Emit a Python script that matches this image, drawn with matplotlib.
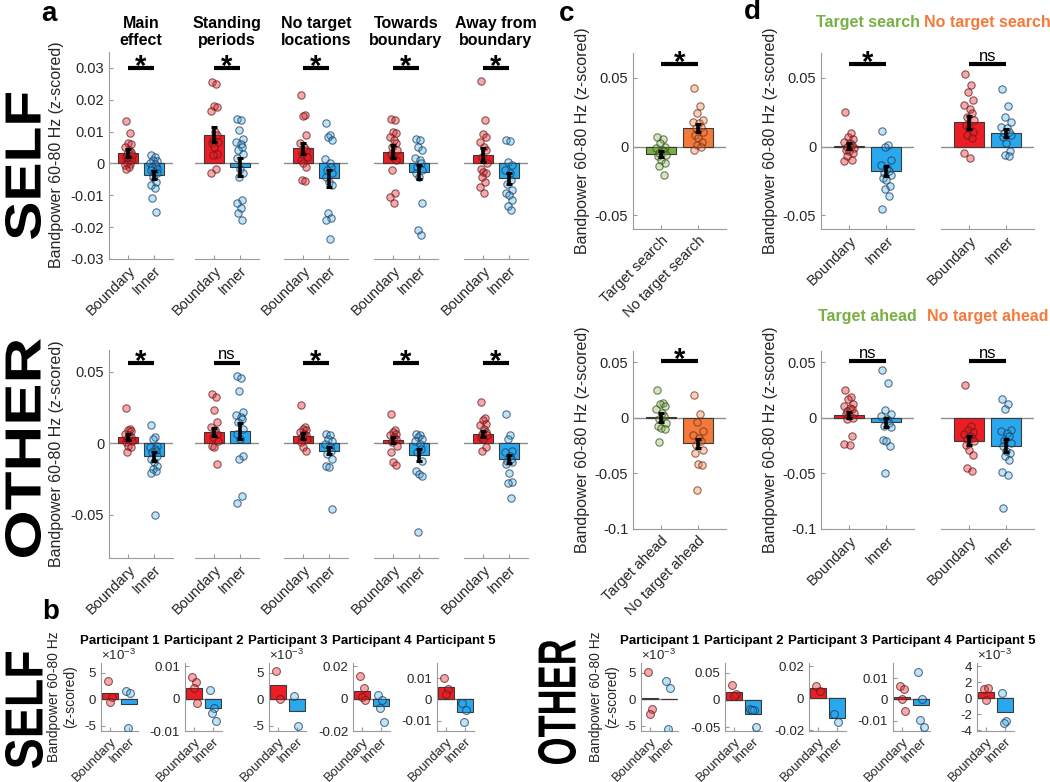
import matplotlib
matplotlib.use("Agg")
import matplotlib.pyplot as plt
import matplotlib.transforms as mtransforms
from matplotlib.textpath import TextPath
from matplotlib.patches import PathPatch
from matplotlib.font_manager import FontProperties
import numpy as np

plt.rcParams["font.family"] = ["Liberation Sans", "DejaVu Sans"]
plt.rcParams["axes.unicode_minus"] = False
plt.rcParams["mathtext.fontset"] = "custom"
plt.rcParams["mathtext.rm"] = "Liberation Sans"

W, H = 1050, 782

# ── panel a: SELF / OTHER, five conditions ───────────────────────────────────
conditions = ["Main\neffect", "Standing\nperiods", "No target\nlocations",
              "Towards\nboundary", "Away from\nboundary"]
groups = ["Boundary", "Inner"]

self_bnd = [
    [0.0133, 0.0096, 0.0065, 0.006, 0.0052, 0.0042, 0.0036, 0.003, 0.0026, 0.002, 0.0016, 0.001, 0.0002, -0.0002, -0.0005, -0.001, -0.0016],
    [0.0255, 0.0248, 0.0182, 0.0177, 0.0164, 0.0099, 0.0089, 0.0073, 0.0068, 0.0063, 0.0052, 0.0031, 0.0026, -0.0016, -0.0031],
    [0.0216, 0.0151, 0.0148, 0.0089, 0.0063, 0.0052, 0.0042, 0.0031, 0.0021, 0.001, 0.0, -0.001, -0.0052, -0.0054],
    [0.0141, 0.0135, 0.0099, 0.0096, 0.0083, 0.0073, 0.0063, 0.0052, 0.0042, 0.0031, 0.0021, 0.001, -0.0021, -0.0092, -0.0104, -0.0125],
    [0.0258, 0.0135, 0.0094, 0.0083, 0.0068, 0.0052, 0.0042, 0.0021, 0.0, -0.0016, -0.0026, -0.0031, -0.0042, -0.0057, -0.0073, -0.0092],
]
self_inn = [
    [0.0026, 0.0021, 0.0012, 0.0008, 0.0002, -0.0002, -0.0007, -0.001, -0.0016, -0.0021, -0.0026, -0.0031, -0.0042, -0.0057, -0.0068, -0.0078, -0.0109, -0.0151],
    [0.0141, 0.0137, 0.0104, 0.0078, 0.0068, 0.006, 0.0052, 0.0042, 0.0031, 0.0016, -0.0016, -0.0031, -0.0042, -0.0115, -0.0125, -0.0141, -0.0156, -0.0177],
    [0.0127, 0.0089, 0.0083, 0.0075, 0.0013, 0.0, -0.001, -0.0021, -0.0031, -0.0042, -0.0057, -0.0068, -0.0156, -0.0172, -0.0177, -0.0238],
    [0.0078, 0.0073, 0.0052, 0.0042, 0.0016, 0.001, 0.0, -0.001, -0.0021, -0.0031, -0.0042, -0.0125, -0.0208, -0.0224],
    [0.0075, 0.0071, 0.0005, -0.0005, -0.0021, -0.0031, -0.0052, -0.0063, -0.0083, -0.0094, -0.0099, -0.0115, -0.0135, -0.0146],
]
self_mean_bnd = [0.0033, 0.009, 0.0047, 0.0037, 0.0027]
self_mean_inn = [-0.0037, -0.001, -0.0047, -0.0028, -0.0047]
self_sem_bnd = [0.0012, 0.0023, 0.0018, 0.0021, 0.0023]
self_sem_inn = [0.0012, 0.0028, 0.0027, 0.0022, 0.0018]
self_sig = ["*", "*", "*", "*", "*"]

other_bnd = [
    [0.0246, 0.0101, 0.0094, 0.0082, 0.0066, 0.0054, 0.0042, 0.0031, 0.0019, 0.0007, -0.0016, -0.0028, -0.0059],
    [0.034, 0.0319, 0.023, 0.0148, 0.0113, 0.0089, 0.0066, 0.0042, 0.0019, -0.0016, -0.0028, -0.0146],
    [0.0265, 0.0113, 0.0101, 0.0089, 0.0077, 0.0066, 0.0054, 0.0042, 0.0031, 0.0007, -0.0028, -0.0052],
    [0.0207, 0.0089, 0.0077, 0.0066, 0.0054, 0.0042, 0.0031, 0.0007, -0.0016, -0.0063, -0.0134, -0.0153],
    [0.0289, 0.0176, 0.016, 0.0136, 0.0124, 0.0101, 0.0077, 0.0066, 0.0054, 0.0042, 0.0031, -0.0028, -0.0052],
]
other_inn = [
    [0.0124, 0.0042, 0.0031, -0.0016, -0.0028, -0.004, -0.0052, -0.0063, -0.0087, -0.011, -0.0134, -0.0157, -0.0181, -0.0192, -0.0204, -0.0498],
    [0.047, 0.0453, 0.0364, 0.0218, 0.0195, 0.0183, 0.0171, 0.0148, 0.0101, 0.0066, 0.0031, -0.0087, -0.011, -0.0369, -0.0415],
    [0.0066, 0.0054, 0.0031, 0.0019, -0.0005, -0.0028, -0.0052, -0.0075, -0.011, -0.0157, -0.0169, -0.0458],
    [0.0066, 0.0054, 0.0042, 0.0031, 0.0019, -0.0005, -0.004, -0.0063, -0.0122, -0.0192, -0.0216, -0.0228, -0.062],
    [0.0202, 0.0059, 0.0031, -0.0052, -0.0063, -0.0087, -0.011, -0.0122, -0.0134, -0.0146, -0.0204, -0.027, -0.0275, -0.038],
]
other_mean_bnd = [0.0045, 0.0077, 0.005, 0.0022, 0.0063]
other_mean_inn = [-0.0092, 0.0085, -0.0053, -0.0082, -0.011]
other_sem_bnd = [0.002, 0.003, 0.0018, 0.002, 0.002]
other_sem_inn = [0.003, 0.0055, 0.0025, 0.004, 0.003]
other_sig = ["*", "ns", "*", "*", "*"]

# ── panel b: single participants ─────────────────────────────────────────────
participants = ["Participant 1", "Participant 2", "Participant 3", "Participant 4", "Participant 5"]
b_self_bnd = [[0.0034, 0.0004, -0.0005], [0.0068, 0.005, 0.0032, -0.0014], [0.0053, 0.0001],
              [0.0137, 0.0063, 0.001, -0.001], [0.01, 0.0048, 0.0024]]
b_self_inn = [[0.0015, 0.0011, -0.0055], [0.0026, -0.0028, -0.0045, -0.007], [0.0005, -0.005],
              [0.0021, -0.0006, -0.0057, -0.0147], [-0.0016, -0.0048, -0.0106]]
b_other_bnd = [[0.0052, -0.0019, -0.0028], [0.027, 0.0106, 0.008], [0.0076, 0.0047],
               [0.0062, 0.0047, 0.0, -0.0055], [0.0012, 0.0013, -0.0002]]
b_other_inn = [[0.0035, 0.0021, -0.0057], [-0.017, -0.018, -0.019, -0.05], [-0.0097, -0.015],
               [0.013, 0.0003, -0.0098, -0.013], [0.0006, -0.0028, -0.0031]]

# ── panel c: target vs no target ─────────────────────────────────────────────
c_top_labels = ["Target search", "No target search"]
c_top_pts = [[0.0072, 0.0053, 0.0024, 0.0, -0.0012, -0.0024, -0.0036, -0.0048, -0.006, -0.0072, -0.0096, -0.012, -0.0144, -0.0204],
             [0.0428, 0.0298, 0.0245, 0.0192, 0.018, 0.0168, 0.0144, 0.0132, 0.0108, 0.0084, 0.006, 0.0036, 0.0012, 0.0, -0.0024]]
c_top_mean = [-0.0055, 0.0132]
c_top_sem = [0.0022, 0.003]
c_bot_labels = ["Target ahead", "No target ahead"]
c_bot_pts = [[0.0248, 0.013, 0.0121, 0.0106, 0.0076, 0.0045, 0.0015, -0.0015, -0.0045, -0.007, -0.0091, -0.01, -0.0218],
             [0.0203, 0.0036, -0.0039, -0.0121, -0.0152, -0.0182, -0.0212, -0.0242, -0.0288, -0.0318, -0.0415, -0.0424, -0.0645]]
c_bot_mean = [0.0005, -0.0228]
c_bot_sem = [0.004, 0.004]

# ── panel d: boundary vs inner split by target condition ─────────────────────
d_titles_top = ["Target search", "No target search"]
d_titles_bot = ["Target ahead", "No target ahead"]
d_top_pts = [
    [[0.025, 0.0101, 0.0072, 0.0053, 0.0036, 0.0024, 0.0012, 0.0, -0.0012, -0.0024, -0.0036, -0.0048, -0.0072, -0.0096, -0.0108],
     [0.0113, 0.0012, 0.0, -0.0096, -0.0132, -0.0156, -0.018, -0.0192, -0.0204, -0.0228, -0.024, -0.0288, -0.0312, -0.036, -0.0452]],
    [[0.0529, 0.0445, 0.0397, 0.0341, 0.03, 0.0276, 0.0245, 0.0216, 0.0192, 0.0156, 0.0132, 0.0108, 0.0084, 0.006, -0.0048, -0.0084],
     [0.0421, 0.0293, 0.0216, 0.018, 0.0144, 0.0132, 0.0108, 0.0096, 0.0084, 0.0072, 0.0024, -0.0036, -0.006, -0.0072]],
]
d_top_mean = [[0.0005, -0.018], [0.0175, 0.01]]
d_top_sem = [[0.002, 0.0035], [0.005, 0.003]]
d_top_sig = ["*", "ns"]
d_bot_pts = [
    [[0.0248, 0.0188, 0.0173, 0.0121, 0.0106, 0.0091, 0.0076, 0.0061, 0.0045, 0.003, 0.0015, 0.0, -0.0015, -0.0161, -0.0236, -0.0242],
     [0.0433, 0.0309, 0.007, 0.003, 0.0015, -0.0015, -0.0045, -0.007, -0.0082, -0.0197, -0.0212, -0.0252, -0.05]],
    [[0.0297, -0.007, -0.0106, -0.013, -0.0142, -0.0167, -0.0182, -0.0191, -0.0212, -0.0242, -0.0288, -0.0333, -0.0455, -0.0476],
     [0.0167, 0.0121, 0.0076, -0.0106, -0.0121, -0.0136, -0.0167, -0.0197, -0.0227, -0.0258, -0.0303, -0.0318, -0.0348, -0.0379, -0.0485, -0.0515, -0.0809]],
]
d_bot_mean = [[0.0025, -0.004], [-0.0206, -0.025]]
d_bot_sem = [[0.003, 0.004], [0.004, 0.006]]
d_bot_sig = ["ns", "ns"]

# ── styling ──────────────────────────────────────────────────────────────────
RED, BLUE, GREEN, ORANGE = "#ee1d23", "#2aa8ee", "#77b043", "#f5793b"
DOT = {
    RED: ((0.93, 0.11, 0.14, 0.38), (0.35, 0.12, 0.12, 0.7)),
    BLUE: ((0.16, 0.66, 0.93, 0.30), (0.12, 0.22, 0.35, 0.7)),
    GREEN: ((0.47, 0.69, 0.26, 0.32), (0.22, 0.30, 0.12, 0.7)),
    ORANGE: ((0.96, 0.47, 0.23, 0.35), (0.40, 0.20, 0.10, 0.7)),
}
AXC = "#9a9a9a"
TXT = "#262626"
YLAB = "Bandpower 60-80 Hz (z-scored)"
JIT = np.array([-0.10, 0.06, -0.02, 0.12, -0.13, 0.03, 0.09, -0.06, 0.14,
                -0.09, 0.01, 0.11, -0.04, 0.07, -0.12, 0.04, -0.07, 0.10])

fig = plt.figure(figsize=(W / 100, H / 100), dpi=100)


def px_axes(x0, y0, x1, y1):
    return fig.add_axes([x0 / W, 1 - y1 / H, (x1 - x0) / W, (y1 - y0) / H])


def ftext(x, y, s, **kw):
    return fig.text(x / W, 1 - y / H, s, **kw)


def row_label(s, cx, cy, length, thick):
    # big vertical label, sized by its ink box in pixels
    tp = TextPath((0, 0), s, size=100, prop=FontProperties(family="Liberation Sans", weight="bold"))
    bb = tp.get_extents()
    tr = (mtransforms.Affine2D()
          .translate(-(bb.x0 + bb.width / 2), -(bb.y0 + bb.height / 2))
          .scale(length / bb.width, thick / bb.height)
          .rotate_deg(90)
          .translate(cx, H - cy))
    fig.add_artist(PathPatch(tp, transform=tr, facecolor="black", edgecolor="none"))


def fmt_g(scale=1.0):
    return matplotlib.ticker.FuncFormatter(lambda v, p: "%g" % round(v * scale, 6))


def bar_axis(ax, pts, means, sems, cols, ylim, xlabels, show_y, yticks=None,
             sig=None, sig_y=None, xlim=(0.25, 2.75), width=0.8, tick_fs=10.5,
             xl_fs=11, jit=1.0, s=28):
    x = np.array([1, 2])
    ax.axhline(0, color="#8c8c8c", lw=1.0, zorder=1)
    ax.bar(x, means, width=width, color=cols, edgecolor="#3a3a3a", linewidth=0.8, zorder=2)
    for i, p in enumerate(pts):
        face, edge = DOT[cols[i]]
        xs = x[i] + jit * np.resize(JIT, len(p))
        ax.scatter(xs, p, s=s, facecolor=face, edgecolor=edge, linewidth=0.8, zorder=3)
    if sems is not None:
        ax.errorbar(x, means, yerr=sems, fmt="none", ecolor="black", elinewidth=2.6,
                    capsize=2.2, capthick=2.2, zorder=4)
    ax.set_xlim(*xlim)
    ax.set_ylim(*ylim)
    ax.set_xticks(x)
    ax.set_xticklabels(xlabels, rotation=45, ha="right", rotation_mode="anchor",
                       fontsize=xl_fs, color=TXT)
    for sp in ("top", "right"):
        ax.spines[sp].set_visible(False)
    ax.spines["bottom"].set_color(AXC)
    ax.spines["left"].set_color(AXC)
    ax.tick_params(direction="in", length=3, width=0.8, color=AXC, labelcolor=TXT,
                   labelsize=tick_fs)
    ax.tick_params(axis="x", pad=3)
    if show_y:
        if yticks is not None:
            ax.set_yticks(yticks)
        ax.yaxis.set_major_formatter(fmt_g())
    else:
        ax.spines["left"].set_visible(False)
        ax.set_yticks([])
    if sig is not None:
        ax.plot([1, 2], [sig_y, sig_y], color="black", lw=3, solid_capstyle="butt",
                clip_on=False, zorder=5)
        if sig == "*":
            ax.annotate("*", xy=(1.5, sig_y), xytext=(0, -5), textcoords="offset points",
                        ha="center", va="baseline", fontsize=21, fontweight="bold",
                        annotation_clip=False)
        else:
            ax.annotate(sig, xy=(1.5, sig_y), xytext=(0, 2.5), textcoords="offset points",
                        ha="center", va="baseline", fontsize=12, color="black",
                        annotation_clip=False)


# ── panel a ──────────────────────────────────────────────────────────────────
a_left = [109, 195, 284, 374, 464]
a_w = 64
for k in range(5):
    x0 = a_left[k]
    ax = px_axes(x0, 52, x0 + a_w, 259)
    bar_axis(ax, [self_bnd[k], self_inn[k]], [self_mean_bnd[k], self_mean_inn[k]],
             [self_sem_bnd[k], self_sem_inn[k]], [RED, BLUE], (-0.03, 0.035), groups,
             show_y=(k == 0), yticks=[-0.03, -0.02, -0.01, 0, 0.01, 0.02, 0.03],
             sig=self_sig[k], sig_y=0.03)
    ftext(x0 + a_w / 2, 32, conditions[k], ha="center", va="center", fontsize=11.5,
          fontweight="bold", linespacing=1.15)

    ax = px_axes(x0, 350, x0 + a_w, 558)
    bar_axis(ax, [other_bnd[k], other_inn[k]], [other_mean_bnd[k], other_mean_inn[k]],
             [other_sem_bnd[k], other_sem_inn[k]], [RED, BLUE], (-0.08, 0.065), groups,
             show_y=(k == 0), yticks=[-0.05, 0, 0.05], sig=other_sig[k], sig_y=0.056)

ftext(56, 155, YLAB, rotation=90, ha="center", va="center", fontsize=11.5, color=TXT)
ftext(56, 454, YLAB, rotation=90, ha="center", va="center", fontsize=11.5, color=TXT)

# ── panel b ──────────────────────────────────────────────────────────────────
b_self_left = [101, 185, 269, 353, 437]
b_other_left = [641, 725, 809, 893, 977]
b_w = 37
b_self_ylim = [(-0.006, 0.0068), (-0.01, 0.011), (-0.006, 0.0068), (-0.02, 0.022), (-0.0147, 0.017)]
b_self_ticks = [[-0.005, 0, 0.005], [-0.01, 0, 0.01], [-0.005, 0, 0.005], [-0.02, 0, 0.02], [-0.01, 0, 0.01]]
b_self_e3 = [True, False, True, False, False]
b_other_ylim = [(-0.006, 0.0068), (-0.057, 0.068), (-0.0205, 0.022), (-0.0147, 0.017), (-0.0041, 0.0044)]
b_other_ticks = [[-0.005, 0, 0.005], [-0.05, 0, 0.05], [-0.02, 0, 0.02], [-0.01, 0, 0.01],
                 [-0.004, -0.002, 0, 0.002, 0.004]]
b_other_e3 = [True, False, False, False, True]

for lefts, bnd, inn, ylims, ticks, e3 in [
        (b_self_left, b_self_bnd, b_self_inn, b_self_ylim, b_self_ticks, b_self_e3),
        (b_other_left, b_other_bnd, b_other_inn, b_other_ylim, b_other_ticks, b_other_e3)]:
    for k in range(5):
        x0 = lefts[k]
        ax = px_axes(x0, 663, x0 + b_w, 731)
        bar_axis(ax, [bnd[k], inn[k]], [np.mean(bnd[k]), np.mean(inn[k])], None,
                 [RED, BLUE], ylims[k], groups, show_y=True, yticks=ticks[k],
                 xlim=(0.5, 2.5), width=0.85, tick_fs=9.5, xl_fs=9.5, jit=1.4, s=32)
        if e3[k]:
            ax.yaxis.set_major_formatter(fmt_g(1000))
            ax.text(0, 1.0, r"$\times10^{-3}$", transform=ax.transAxes, ha="left",
                    va="bottom", fontsize=9.5, color=TXT)
        ftext(x0 + b_w / 2, 641, participants[k], ha="center", va="center",
              fontsize=9.5, fontweight="bold")

ftext(62, 697, "Bandpower 60-80 Hz\n(z-scored)", rotation=90, ha="center", va="center",
      fontsize=10, color=TXT, linespacing=1.2)
ftext(604, 697, "Bandpower 60-80 Hz\n(z-scored)", rotation=90, ha="center", va="center",
      fontsize=10, color=TXT, linespacing=1.2)

# ── panel c ──────────────────────────────────────────────────────────────────
ax = px_axes(633, 53, 726, 229)
bar_axis(ax, c_top_pts, c_top_mean, c_top_sem, [GREEN, ORANGE], (-0.06, 0.068), c_top_labels,
         show_y=True, yticks=[-0.05, 0, 0.05], sig="*", sig_y=0.06)
ax = px_axes(633, 351, 726, 529)
bar_axis(ax, c_bot_pts, c_bot_mean, c_bot_sem, [GREEN, ORANGE], (-0.1, 0.06), c_bot_labels,
         show_y=True, yticks=[-0.1, -0.05, 0, 0.05], sig="*", sig_y=0.051)
ftext(582, 141, YLAB, rotation=90, ha="center", va="center", fontsize=11.5, color=TXT)
ftext(582, 440, YLAB, rotation=90, ha="center", va="center", fontsize=11.5, color=TXT)

# ── panel d ──────────────────────────────────────────────────────────────────
d_left = [821, 941]
d_w = 93
title_cols = [GREEN, ORANGE]
for k in range(2):
    x0 = d_left[k]
    ax = px_axes(x0, 53, x0 + d_w, 229)
    bar_axis(ax, d_top_pts[k], d_top_mean[k], d_top_sem[k], [RED, BLUE], (-0.06, 0.068), groups,
             show_y=(k == 0), yticks=[-0.05, 0, 0.05], sig=d_top_sig[k], sig_y=0.06)
    ax = px_axes(x0, 351, x0 + d_w, 529)
    bar_axis(ax, d_bot_pts[k], d_bot_mean[k], d_bot_sem[k], [RED, BLUE], (-0.1, 0.06), groups,
             show_y=(k == 0), yticks=[-0.1, -0.05, 0, 0.05], sig=d_bot_sig[k], sig_y=0.051)
    ftext(x0 + d_w / 2, 22, d_titles_top[k], ha="center", va="center", fontsize=11.5,
          fontweight="bold", color=title_cols[k])
    ftext(x0 + d_w / 2, 316, d_titles_bot[k], ha="center", va="center", fontsize=11.5,
          fontweight="bold", color=title_cols[k])
ftext(770, 141, YLAB, rotation=90, ha="center", va="center", fontsize=11.5, color=TXT)
ftext(770, 440, YLAB, rotation=90, ha="center", va="center", fontsize=11.5, color=TXT)

# ── panel letters and row labels ─────────────────────────────────────────────
for letter, (lx, ly) in zip("abcd", [(49, 14), (51, 612), (567, 14), (752, 12)]):
    ftext(lx, ly, letter, ha="center", va="center", fontsize=20, fontweight="bold")

row_label("SELF", 23, 166, 146, 36)
row_label("OTHER", 23, 448, 218, 36)
row_label("SELF", 24, 710, 116, 38)
row_label("OTHER", 557, 702, 124, 38)

fig.savefig("out.png", dpi=100, facecolor="white")
